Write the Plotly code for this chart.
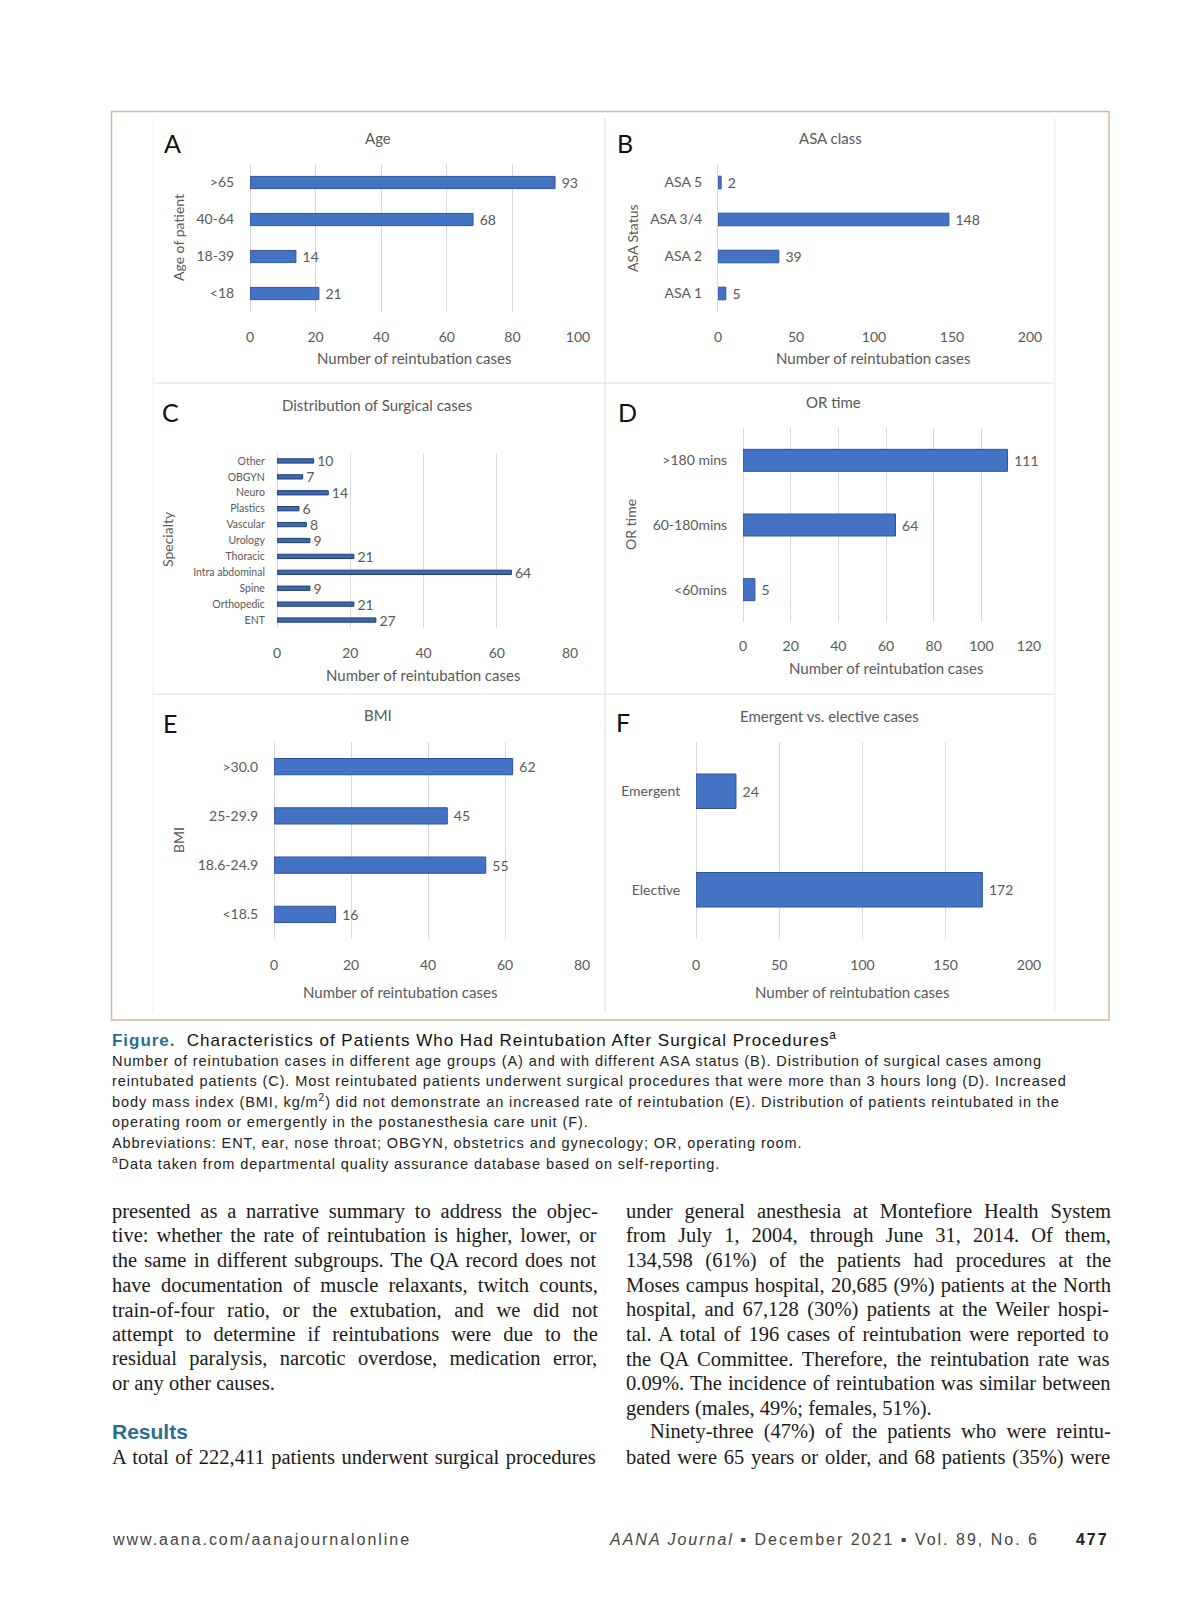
import plotly.graph_objects as go

W, H = 1200, 1606

# ---------------- data ----------------
age_labels = [">65", "40-64", "18-39", "<18"]
age_values = [93, 68, 14, 21]

asa_labels = ["ASA 5", "ASA 3/4", "ASA 2", "ASA 1"]
asa_values = [2, 148, 39, 5]

spec_labels = ["Other", "OBGYN", "Neuro", "Plastics", "Vascular", "Urology",
               "Thoracic", "Intra abdominal", "Spine", "Orthopedic", "ENT"]
spec_values = [10, 7, 14, 6, 8, 9, 21, 64, 9, 21, 27]

ortime_labels = [">180 mins", "60-180mins", "<60mins"]
ortime_values = [111, 64, 5]

bmi_labels = [">30.0", "25-29.9", "18.6-24.9", "<18.5"]
bmi_values = [62, 45, 55, 16]

emerg_labels = ["Emergent", "Elective"]
emerg_values = [24, 172]

age_ticks = [0, 20, 40, 60, 80, 100]
asa_ticks = [0, 50, 100, 150, 200]
spec_ticks = [0, 20, 40, 60, 80]
ortime_ticks = [0, 20, 40, 60, 80, 100, 120]
bmi_ticks = [0, 20, 40, 60, 80]
emerg_ticks = [0, 50, 100, 150, 200]

caption_title_bold = "Figure."
caption_title_rest = "Characteristics of Patients Who Had Reintubation After Surgical Procedures"
caption_lines = [
    "Number of reintubation cases in different age groups (A) and with different ASA status (B). Distribution of surgical cases among",
    "reintubated patients (C). Most reintubated patients underwent surgical procedures that were more than 3 hours long (D). Increased",
    "body mass index (BMI, kg/m<sup>2</sup>) did not demonstrate an increased rate of reintubation (E). Distribution of patients reintubated in the",
    "operating room or emergently in the postanesthesia care unit (F).",
    "Abbreviations: ENT, ear, nose throat; OBGYN, obstetrics and gynecology; OR, operating room.",
    "<sup>a</sup>Data taken from departmental quality assurance database based on self-reporting.",
]
left_col = [
    "presented as a narrative summary to address the objec-",
    "tive: whether the rate of reintubation is higher, lower, or",
    "the same in different subgroups. The QA record does not",
    "have documentation of muscle relaxants, twitch counts,",
    "train-of-four ratio, or the extubation, and we did not",
    "attempt to determine if reintubations were due to the",
    "residual paralysis, narcotic overdose, medication error,",
    "or any other causes.",
]
left_col_after = ["A total of 222,411 patients underwent surgical procedures"]
right_col = [
    "under general anesthesia at Montefiore Health System",
    "from July 1, 2004, through June 31, 2014. Of them,",
    "134,598 (61%) of the patients had procedures at the",
    "Moses campus hospital, 20,685 (9%) patients at the North",
    "hospital, and 67,128 (30%) patients at the Weiler hospi-",
    "tal. A total of 196 cases of reintubation were reported to",
    "the QA Committee. Therefore, the reintubation rate was",
    "0.09%. The incidence of reintubation was similar between",
    "genders (males, 49%; females, 51%).",
    "Ninety-three (47%) of the patients who were reintu-",
    "bated were 65 years or older, and 68 patients (35%) were",
]
footer_left = "www.aana.com/aanajournalonline"
footer_journal = "AANA Journal"
footer_rest = " \u25aa December 2021 \u25aa Vol. 89, No. 6"
footer_page = "477"

# ---------------- font metrics (Times / Helvetica compatible) ----------------
TIMES = {" ": 250, "%": 833, "(": 333, ")": 333, ",": 250, "-": 333, ".": 250, "/": 278,
         ":": 278, ";": 278}
for c in "0123456789":
    TIMES[c] = 500
TIMES.update(dict(zip("ABCDEFGHIJKLMNOPQRSTUVWXYZ",
                      [722, 667, 667, 722, 611, 556, 722, 722, 333, 389, 722, 611, 889,
                       722, 722, 556, 722, 667, 556, 611, 722, 722, 944, 722, 722, 611])))
TIMES.update(dict(zip("abcdefghijklmnopqrstuvwxyz",
                      [444, 500, 444, 500, 444, 333, 500, 500, 278, 278, 500, 278, 778,
                       500, 500, 500, 500, 333, 389, 278, 500, 500, 722, 500, 500, 444])))
HELV = {" ": 278, "%": 889, "(": 333, ")": 333, ",": 278, "-": 333, ".": 278, "/": 278,
        ":": 278, ";": 278, "\u25aa": 400}
for c in "0123456789":
    HELV[c] = 556
HELV.update(dict(zip("ABCDEFGHIJKLMNOPQRSTUVWXYZ",
                     [667, 667, 722, 722, 667, 611, 778, 722, 278, 500, 667, 556, 833,
                      722, 778, 667, 778, 722, 667, 611, 722, 667, 944, 667, 667, 611])))
HELV.update(dict(zip("abcdefghijklmnopqrstuvwxyz",
                     [556, 556, 500, 556, 556, 278, 556, 556, 222, 222, 500, 222, 833,
                      556, 556, 556, 556, 333, 500, 278, 556, 500, 722, 500, 500, 500])))


def strip_tags(s):
    out, inside = [], False
    for ch in s:
        if ch == "<":
            inside = True
        elif ch == ">":
            inside = False
        elif not inside:
            out.append(ch)
    return "".join(out)


def text_width(s, table, size):
    s = strip_tags(s)
    return sum(table.get(ch, 500) for ch in s) * size / 1000.0


# ---------------- helpers ----------------
def px(x):
    return x / W


def py(y):
    return 1 - y / H


CHART_FONT = "Lato, Carlito, Calibri, Open Sans, sans-serif"
GRAY = "#595959"
BAR = "#4472c4"
BAR_LINE = "#2f5597"

fig = go.Figure()
annotations = []
shapes = []

panels = [
    dict(lab=age_labels, val=age_values, ticks=age_ticks, x0=250, x1=578, yt=164, yb=312,
         w=0.33, yfs=14, tlx=12, tly=12, grid=True, color=BAR, line=BAR_LINE),
    dict(lab=asa_labels, val=asa_values, ticks=asa_ticks, x0=718, x1=1030, yt=164, yb=312,
         w=0.34, yfs=14, tlx=12, tly=12, grid=False, color=BAR, line=BAR_LINE),
    dict(lab=spec_labels, val=spec_values, ticks=spec_ticks, x0=277, x1=570, yt=453, yb=628,
         w=0.27, yfs=10.5, tlx=12, tly=9, grid=True, color="#3d68aa", line="#1f4177"),
    dict(lab=ortime_labels, val=ortime_values, ticks=ortime_ticks, x0=743, x1=1029, yt=428, yb=622,
         w=0.34, yfs=14, tlx=11, tly=12, grid=True, color=BAR, line=BAR_LINE),
    dict(lab=bmi_labels, val=bmi_values, ticks=bmi_ticks, x0=274, x1=582, yt=742, yb=939,
         w=0.33, yfs=14, tlx=13, tly=12, grid=True, color=BAR, line=BAR_LINE),
    dict(lab=emerg_labels, val=emerg_values, ticks=emerg_ticks, x0=696, x1=1029, yt=742, yb=939,
         w=0.35, yfs=14, tlx=13, tly=12, grid=True, color=BAR, line=BAR_LINE),
]

layout_axes = {}
for i, p in enumerate(panels, start=1):
    sfx = "" if i == 1 else str(i)
    fig.add_trace(go.Bar(
        y=p["lab"], x=p["val"], orientation="h",
        xaxis="x" + sfx, yaxis="y" + sfx,
        width=p["w"],
        marker=dict(color=p["color"], line=dict(color=p["line"], width=1)),
        text=p["val"], texttemplate="\u00a0%{x}", textposition="outside",
        textfont=dict(family=CHART_FONT, size=14, color=GRAY),
        cliponaxis=False, showlegend=False, hoverinfo="skip",
    ))
    layout_axes["xaxis" + sfx] = dict(
        domain=[px(p["x0"]), px(p["x1"])], range=[p["ticks"][0], p["ticks"][-1]],
        anchor="y" + sfx, tickmode="array", tickvals=p["ticks"], automargin=False,
        showgrid=p["grid"], gridcolor="#d9d9d9", gridwidth=1,
        zeroline=p["grid"], zerolinecolor="#d9d9d9", zerolinewidth=1,
        showline=False, ticks="outside", ticklen=p["tlx"], tickcolor="rgba(0,0,0,0)",
        tickfont=dict(family=CHART_FONT, size=14, color=GRAY), fixedrange=True,
    )
    layout_axes["yaxis" + sfx] = dict(
        domain=[py(p["yb"]), py(p["yt"])], anchor="x" + sfx, type="category",
        autorange="reversed", showgrid=False, zeroline=False, automargin=False,
        showline=not p["grid"], linecolor="#d9d9d9", linewidth=1,
        ticks="outside", ticklen=p["tly"], tickcolor="rgba(0,0,0,0)",
        tickfont=dict(family=CHART_FONT, size=p["yfs"], color=GRAY), fixedrange=True,
    )


def ann(text, x, y, size, color="#222", family=CHART_FONT, xanchor="center",
        yanchor="middle", angle=0):
    annotations.append(dict(
        text=text, x=px(x), y=py(y), xref="paper", yref="paper", showarrow=False,
        xanchor=xanchor, yanchor=yanchor, textangle=angle, borderpad=0,
        font=dict(family=family, size=size, color=color),
    ))


# panel titles
for t, x, y in [("Age", 378, 138), ("ASA class", 830, 138),
                ("Distribution of Surgical cases", 377, 405), ("OR time", 833, 402),
                ("BMI", 378, 715), ("Emergent vs. elective cases", 829, 716)]:
    ann(t, x, y, 15, GRAY)
# panel letters
for t, x, y in [("A", 172, 143), ("B", 625, 143), ("C", 171, 412),
                ("D", 627, 412), ("E", 170, 723), ("F", 623, 722)]:
    ann(t, x, y, 25, "#111")
# x axis titles
for x, y in [(414, 358), (873, 358), (423, 675), (886, 668), (400, 992), (852, 992)]:
    ann("Number of reintubation cases", x, y, 15, GRAY)
# y axis titles
for t, x, y in [("Age of patient", 178, 238), ("ASA Status", 632, 238),
                ("Specialty", 167, 539), ("OR time", 630, 525), ("BMI", 178, 840)]:
    ann(t, x, y, 14, GRAY, angle=-90)

# ---------------- caption ----------------
SANS = "Liberation Sans, Arial, Helvetica, sans-serif"
CAP_SIZE = 14.5
cap_ls = (1043 - 111 - text_width(caption_lines[0], HELV, CAP_SIZE)) / len(caption_lines[0])
cap_ls = max(0.0, round(cap_ls, 2))

TITLE_SIZE = 17
title_plain = caption_title_bold + "  " + caption_title_rest + "a"
title_ls = (842 - 111 - text_width(title_plain, HELV, TITLE_SIZE) * 1.01) / len(title_plain)
title_ls = max(0.0, round(title_ls, 2))
caption_title = (f"<span style='letter-spacing:{title_ls}px'>"
                 f"<span style='color:#2b6f8f'><b>{caption_title_bold}</b></span>  "
                 f"{caption_title_rest}<sup>a</sup></span>")
ann(caption_title, 111, 1039, TITLE_SIZE, "#111", family=SANS, xanchor="left")
cap_y = [1061, 1080.5, 1101, 1121.5, 1143, 1163]
for i, line in enumerate(caption_lines):
    ann(f"<span style='letter-spacing:{cap_ls}px'>{line}</span>", 111, cap_y[i], CAP_SIZE,
        "#222", family=SANS, xanchor="left")

# ---------------- body text (justified via word spacing) ----------------
SERIF = "Liberation Serif, Times New Roman, serif"
BODY = 20.5
ys = [1211.3, 1235.9, 1260.5, 1285.1, 1309.7, 1334.2, 1358.8, 1383.4, 1408, 1431.5, 1457]


def body_line(text, x0, x1, y, justify=True):
    if justify:
        nat = text_width(text, TIMES, BODY)
        ns = text.count(" ")
        ws = (x1 - x0 - nat) / ns if ns else 0
        ws = max(-1.5, min(ws, 12))
        text = f"<span style='word-spacing:{ws:.2f}px'>{text}</span>"
    ann(text, x0, y, BODY, "#1a1a1a", family=SERIF, xanchor="left")


for i, line in enumerate(left_col):
    body_line(line, 111, 597, ys[i], justify=(i < len(left_col) - 1))
ann("<b>Results</b>", 111, ys[9], 21, "#2b6f8f", family=SANS, xanchor="left")
body_line(left_col_after[0], 111, 597, ys[10])
for i, line in enumerate(right_col):
    x0 = 649 if i == 9 else 625
    body_line(line, x0, 1110, ys[i], justify=(i != 8))

# ---------------- footer ----------------
FOOT = 16
fl_ls = (410 - 111 - text_width(footer_left, HELV, FOOT)) / len(footer_left)
ann(f"<span style='letter-spacing:{fl_ls:.2f}px'>{footer_left}</span>", 111, 1539, FOOT,
    "#444", family=SANS, xanchor="left")
fr_plain = footer_journal + footer_rest
fr_ls = (1040 - 608 - text_width(fr_plain, HELV, FOOT)) / len(fr_plain)
ann(f"<span style='letter-spacing:{fr_ls:.2f}px'><i>{footer_journal}</i>{footer_rest}</span>",
    1040, 1539, FOOT, "#444", family=SANS, xanchor="right")
ann(f"<span style='letter-spacing:{fl_ls:.2f}px'><b>{footer_page}</b></span>", 1110, 1539,
    FOOT, "#222", family=SANS, xanchor="right")


# ---------------- frame and panel separators ----------------
def line(x0, y0, x1, y1, color, width=1):
    shapes.append(dict(type="line", xref="paper", yref="paper",
                       x0=px(x0), y0=py(y0), x1=px(x1), y1=py(y1),
                       line=dict(color=color, width=width)))


shapes.append(dict(type="rect", xref="paper", yref="paper",
                   x0=px(111.5), y0=py(1020), x1=px(1109), y1=py(111.5),
                   line=dict(color="#d9b699", width=1.5), layer="below"))
line(153, 383, 1055, 383, "#dcdcdc")
line(153, 694, 1055, 694, "#dcdcdc")
line(605, 118, 605, 1012, "#dcdcdc")
line(1055, 118, 1055, 1012, "#ececec")
line(153, 118, 153, 1012, "#f0f0f0")

fig.update_layout(
    width=W, height=H, margin=dict(l=0, r=0, t=0, b=0, pad=0, autoexpand=False),
    paper_bgcolor="white", plot_bgcolor="white",
    annotations=annotations, shapes=shapes, showlegend=False,
    uniformtext=dict(mode=False), barmode="group",
    **layout_axes,
)
fig.update_traces(constraintext="none")

fig.write_html(
    "out.html", config={"displayModeBar": False, "responsive": False},
    post_script=("document.documentElement.style.overflow='hidden';"
                 "document.body.style.overflow='hidden';"
                 "document.body.style.margin='0';"),
)
